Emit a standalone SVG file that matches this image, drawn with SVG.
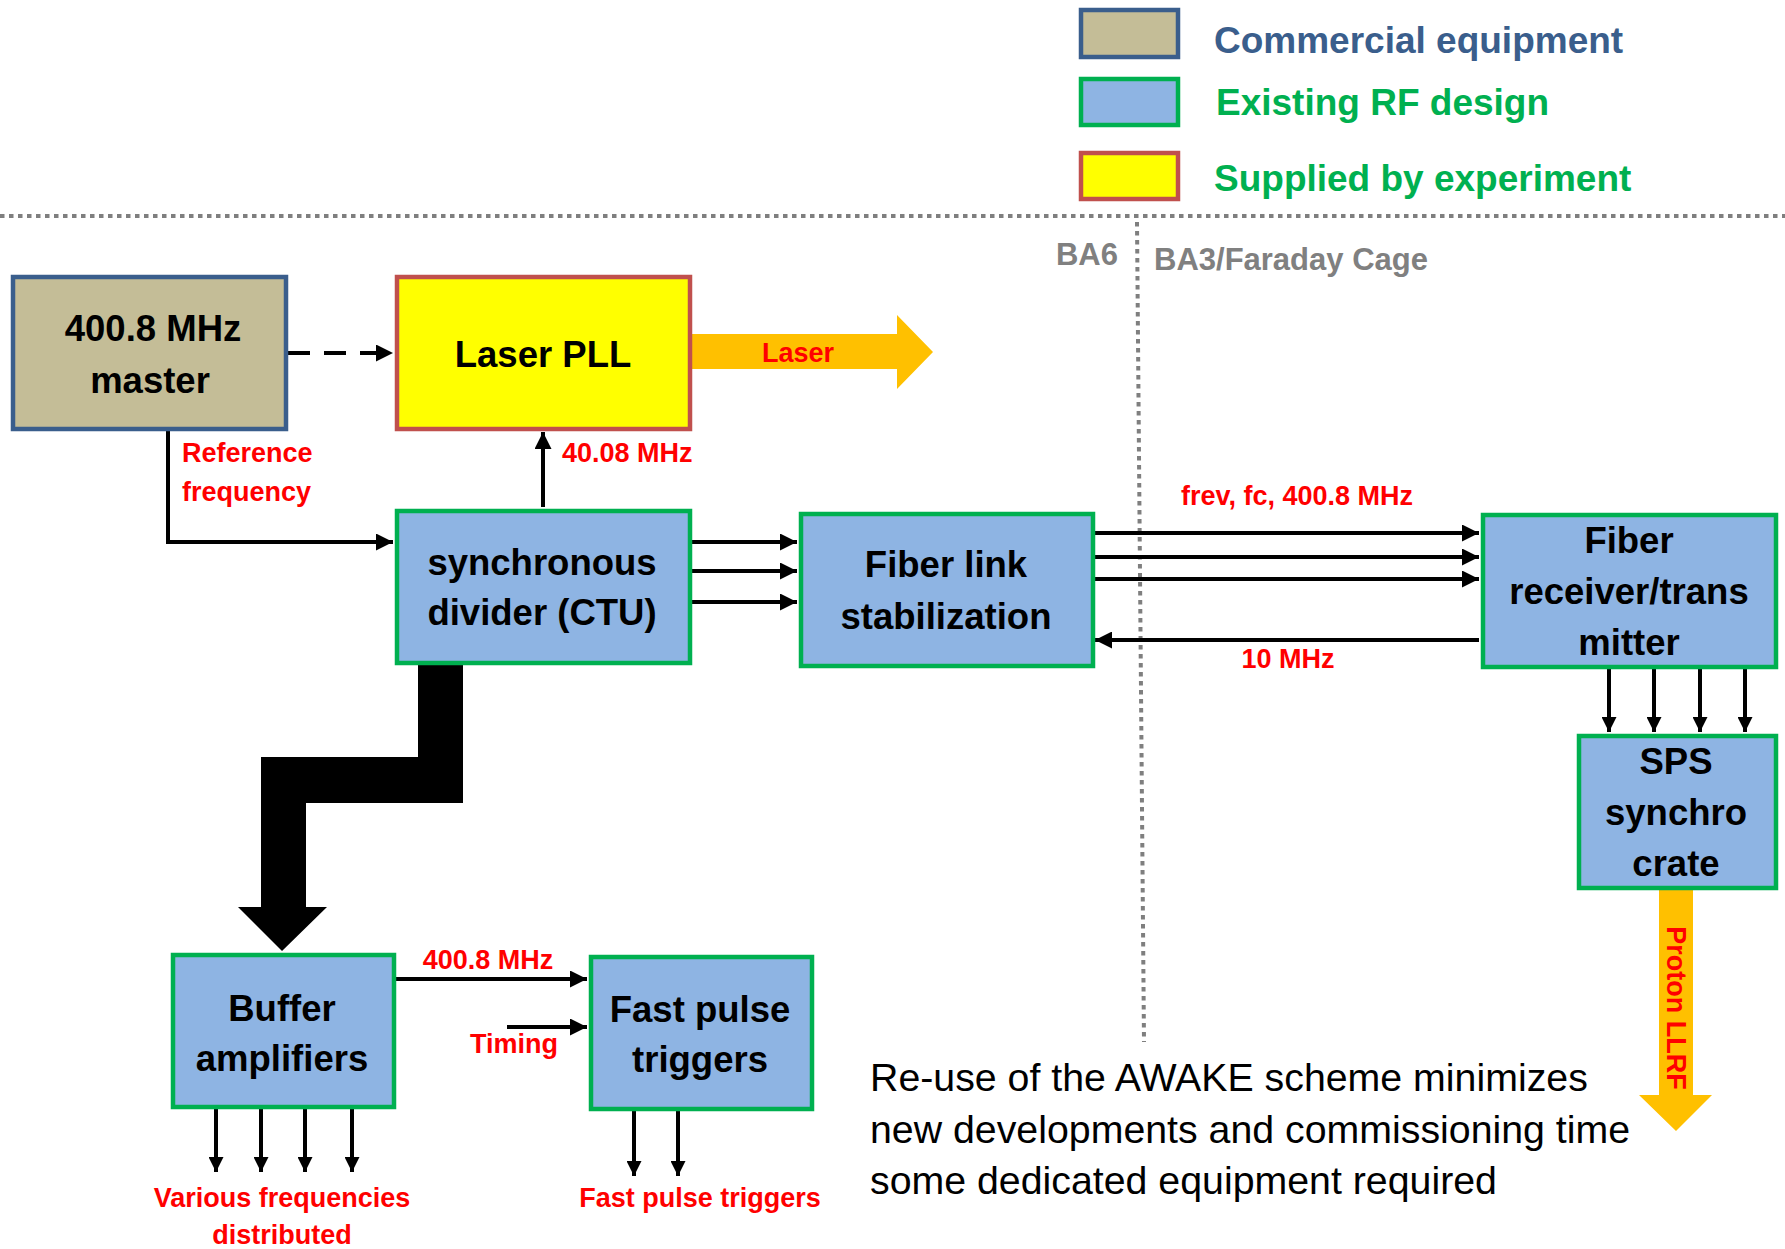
<svg xmlns="http://www.w3.org/2000/svg" width="1785" height="1249" viewBox="0 0 1785 1249">
<style>
.box{stroke-width:4.5}
.tan{fill:#C4BD97;stroke:#3A5E8C}
.yel{fill:#FFFF00;stroke:#C0504D}
.blu{fill:#8EB4E3;stroke:#00B050}
.bt{font-family:"Liberation Sans",Arial,sans-serif;font-weight:bold;font-size:36.5px;fill:#000;text-anchor:middle}
.rl{font-family:"Liberation Sans",Arial,sans-serif;font-weight:bold;font-size:27px;fill:#FF0000}
.lg{font-family:"Liberation Sans",Arial,sans-serif;font-weight:bold;font-size:37px}
.gr{font-family:"Liberation Sans",Arial,sans-serif;font-weight:bold;font-size:31px;fill:#808080}
.ln{stroke:#000;stroke-width:4;fill:none}
.dot{stroke:#7F7F7F;stroke-width:4;stroke-dasharray:4.5 4.5;fill:none}
.note{font-family:"Liberation Sans",Arial,sans-serif;font-size:39.3px;fill:#000}
</style>
<defs>
<marker id="ah" viewBox="0 0 10 10" refX="10" refY="5" markerWidth="24" markerHeight="17" markerUnits="userSpaceOnUse" orient="auto"><path d="M0,0 L10,5 L0,10 z" fill="#000"/></marker>
<marker id="av" viewBox="0 0 10 10" refX="10" refY="5" markerWidth="28" markerHeight="15" markerUnits="userSpaceOnUse" orient="auto"><path d="M0,0 L10,5 L0,10 z" fill="#000"/></marker>
</defs>
<rect width="1785" height="1249" fill="#fff"/>

<g id="legend">
<rect class="box tan" x="1081" y="10" width="97" height="47" stroke-width="5"/>
<rect class="box blu" x="1081" y="79" width="97" height="46" stroke-width="5"/>
<rect class="box yel" x="1081" y="153" width="97" height="46" stroke-width="5"/>
<text class="lg" x="1214" y="53" fill="#3A5E8C">Commercial equipment</text>
<text class="lg" x="1216" y="115" fill="#00B050" font-size="35.5">Existing RF design</text>
<text class="lg" x="1214" y="191" fill="#00B050">Supplied by experiment</text>
</g>

<g id="zones">
<line class="dot" x1="0" y1="216" x2="1785" y2="216"/>
<line class="dot" x1="1137" y1="222" x2="1144" y2="1042"/>
<text class="gr" x="1118" y="265" text-anchor="end">BA6</text>
<text class="gr" x="1154" y="270">BA3/Faraday Cage</text>
</g>

<g id="connectors">
<line class="ln" x1="288" y1="353" x2="393" y2="353" stroke-width="5" stroke-dasharray="22 14" marker-end="url(#ah)"/>
<polyline class="ln" points="168,430 168,542 393,542" stroke-width="3.5" marker-end="url(#ah)"/>
<line class="ln" x1="543" y1="507" x2="543" y2="432" stroke-width="3.5" marker-end="url(#ah)"/>
<line class="ln" x1="692" y1="542" x2="797" y2="542" marker-end="url(#ah)"/>
<line class="ln" x1="692" y1="571" x2="797" y2="571" marker-end="url(#ah)"/>
<line class="ln" x1="692" y1="602" x2="797" y2="602" marker-end="url(#ah)"/>
<line class="ln" x1="1095" y1="533" x2="1479" y2="533" marker-end="url(#ah)"/>
<line class="ln" x1="1095" y1="557" x2="1479" y2="557" marker-end="url(#ah)"/>
<line class="ln" x1="1095" y1="579" x2="1479" y2="579" marker-end="url(#ah)"/>
<line class="ln" x1="1479" y1="640" x2="1095" y2="640" marker-end="url(#ah)"/>
<line class="ln" x1="1609" y1="669" x2="1609" y2="732" marker-end="url(#av)"/>
<line class="ln" x1="1654" y1="669" x2="1654" y2="732" marker-end="url(#av)"/>
<line class="ln" x1="1700" y1="669" x2="1700" y2="732" marker-end="url(#av)"/>
<line class="ln" x1="1745" y1="669" x2="1745" y2="732" marker-end="url(#av)"/>
<line class="ln" x1="396" y1="979" x2="587" y2="979" marker-end="url(#ah)"/>
<line class="ln" x1="507" y1="1027" x2="587" y2="1027" marker-end="url(#ah)"/>
<line class="ln" x1="216" y1="1109" x2="216" y2="1172" marker-end="url(#av)"/>
<line class="ln" x1="261" y1="1109" x2="261" y2="1172" marker-end="url(#av)"/>
<line class="ln" x1="305" y1="1109" x2="305" y2="1172" marker-end="url(#av)"/>
<line class="ln" x1="352" y1="1109" x2="352" y2="1172" marker-end="url(#av)"/>
<line class="ln" x1="634" y1="1111" x2="634" y2="1176" marker-end="url(#av)"/>
<line class="ln" x1="678" y1="1111" x2="678" y2="1176" marker-end="url(#av)"/>
<polygon points="418,665 463,665 463,803 306,803 306,907 327,907 282,951 238,907 261,907 261,757 418,757" fill="#000"/>
<polygon points="692,334 897,334 897,315 933,352 897,389 897,369 692,369" fill="#FFC000"/>
<polygon points="1659,890 1693,890 1693,1095 1712,1095 1676,1131 1639,1095 1659,1095" fill="#FFC000"/>
<text class="rl" x="798" y="362" text-anchor="middle">Laser</text>
<text class="rl" x="182" y="462">Reference</text>
<text class="rl" x="182" y="501">frequency</text>
<text class="rl" x="562" y="462" font-size="28.5">40.08 MHz</text>
<text class="rl" x="1297" y="505" text-anchor="middle" font-size="28.5">frev, fc, 400.8 MHz</text>
<text class="rl" x="1288" y="668" text-anchor="middle" font-size="28.5">10 MHz</text>
<text class="rl" x="488" y="969" text-anchor="middle" font-size="28.5">400.8 MHz</text>
<text class="rl" x="558" y="1053" text-anchor="end">Timing</text>
<text class="rl" x="282" y="1207" text-anchor="middle">Various frequencies</text>
<text class="rl" x="282" y="1244" text-anchor="middle">distributed</text>
<text class="rl" x="700" y="1207" text-anchor="middle">Fast pulse triggers</text>
<text class="rl" transform="translate(1667,1008) rotate(90)" text-anchor="middle">Proton LLRF</text>
</g>

<g id="master">
<rect class="box tan" x="13" y="277" width="273" height="152"/>
<text class="bt" x="153" y="341" font-size="38.5">400.8 MHz</text>
<text class="bt" x="150" y="393" font-size="38.5">master</text>
</g>
<g id="laser-pll">
<rect class="box yel" x="397" y="277" width="293" height="152"/>
<text class="bt" x="543" y="367">Laser PLL</text>
</g>
<g id="divider">
<rect class="box blu" x="397" y="511" width="293" height="152"/>
<text class="bt" x="542" y="575">synchronous</text>
<text class="bt" x="542" y="625">divider (CTU)</text>
</g>
<g id="fiber-link">
<rect class="box blu" x="801" y="514" width="292" height="152"/>
<text class="bt" x="946" y="577">Fiber link</text>
<text class="bt" x="946" y="629">stabilization</text>
</g>
<g id="fiber-receiver">
<rect class="box blu" x="1483" y="515" width="293" height="152"/>
<text class="bt" x="1629" y="553">Fiber</text>
<text class="bt" x="1629" y="604" font-size="38">receiver/trans</text>
<text class="bt" x="1629" y="655">mitter</text>
</g>
<g id="sps-crate">
<rect class="box blu" x="1579" y="736" width="197" height="152"/>
<text class="bt" x="1676" y="774">SPS</text>
<text class="bt" x="1676" y="825">synchro</text>
<text class="bt" x="1676" y="876">crate</text>
</g>
<g id="buffer">
<rect class="box blu" x="173" y="955" width="221" height="152"/>
<text class="bt" x="282" y="1021">Buffer</text>
<text class="bt" x="282" y="1071">amplifiers</text>
</g>
<g id="fast-pulse">
<rect class="box blu" x="591" y="957" width="221" height="152"/>
<text class="bt" x="700" y="1022">Fast pulse</text>
<text class="bt" x="700" y="1072">triggers</text>
</g>

<g id="note">
<text class="note" x="870" y="1091">Re-use of the AWAKE scheme minimizes</text>
<text class="note" x="870" y="1143">new developments and commissioning time</text>
<text class="note" x="870" y="1194">some dedicated equipment required</text>
</g>
</svg>
